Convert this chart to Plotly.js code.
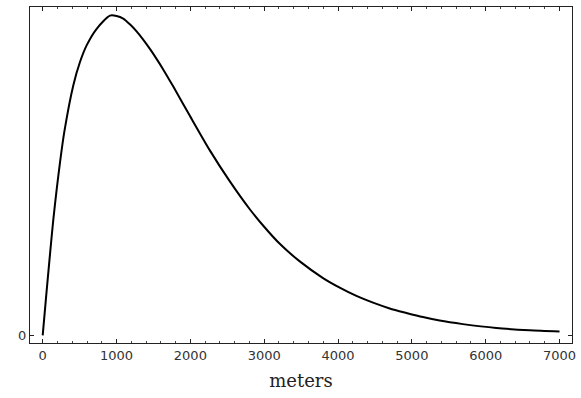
<!DOCTYPE html>
<html>
<head>
<meta charset="utf-8">
<script src="https://cdn.plot.ly/plotly-3.0.1.min.js"></script>
<style>html,body{margin:0;padding:0;background:#fff;}#chart{width:581px;height:398px;}</style>
</head>
<body>
<div id="chart"></div>
<script>
// distance in meters
const meters = [0, 46, 99, 143, 189, 234, 292, 414, 505, 595, 731, 911, 1000, 1091, 1181, 1272, 1361, 1452, 1542, 1632, 1767, 1993, 2264, 2535, 2805, 3008, 3211, 3482, 3797, 4023, 4249, 4474, 4700, 4926, 5150, 5376, 5691, 6143, 6594, 7000];
// relative density (unitless, peak ~1)
const density = [0, 0.120, 0.254, 0.360, 0.455, 0.540, 0.635, 0.781, 0.854, 0.906, 0.958, 0.999, 0.998, 0.990, 0.972, 0.950, 0.924, 0.895, 0.864, 0.831, 0.778, 0.686, 0.578, 0.481, 0.394, 0.337, 0.286, 0.231, 0.179, 0.149, 0.123, 0.102, 0.084, 0.070, 0.057, 0.046, 0.035, 0.023, 0.016, 0.012];
const xTicks = [0, 1000, 2000, 3000, 4000, 5000, 6000, 7000];
const yTicks = [0];
const yTickText = ['0'];

const trace = {
  x: meters, y: density, type: 'scatter', mode: 'lines',
  line: {color: '#000', width: 2, shape: 'spline', smoothing: 0.7},
  hoverinfo: 'skip'
};
const layout = {
  width: 581, height: 398,
  margin: {l: 30, r: 8.5, t: 6.7, b: 55.3},
  paper_bgcolor: '#fff', plot_bgcolor: '#fff',
  showlegend: false,
  xaxis: {
    range: [-172, 7169], showgrid: false, zeroline: false,
    showline: true, linecolor: '#222', linewidth: 1, mirror: 'ticks',
    ticks: 'inside', ticklen: 4, tickcolor: '#222', tickwidth: 1,
    tickmode: 'array', tickvals: xTicks, ticktext: xTicks.map(String),
    minor: {dtick: 200, ticks: 'inside', ticklen: 2, tickcolor: '#444', showgrid: false},
    tickfont: {family: 'DejaVu Sans', size: 13, color: '#333'},
    title: {text: 'meters', font: {family: 'DejaVu Serif', size: 18, color: '#222'}, standoff: 12}
  },
  yaxis: {
    range: [-0.024, 1.026], showgrid: false, zeroline: false,
    showline: true, linecolor: '#222', linewidth: 1, mirror: 'ticks',
    ticks: 'inside', ticklen: 4, tickcolor: '#222', tickwidth: 1,
    tickmode: 'array', tickvals: yTicks, ticktext: yTickText,
    tickfont: {family: 'DejaVu Sans', size: 13, color: '#333'}
  }
};
Plotly.newPlot('chart', [trace], layout, {displayModeBar: false, staticPlot: true});
</script>
</body>
</html>
